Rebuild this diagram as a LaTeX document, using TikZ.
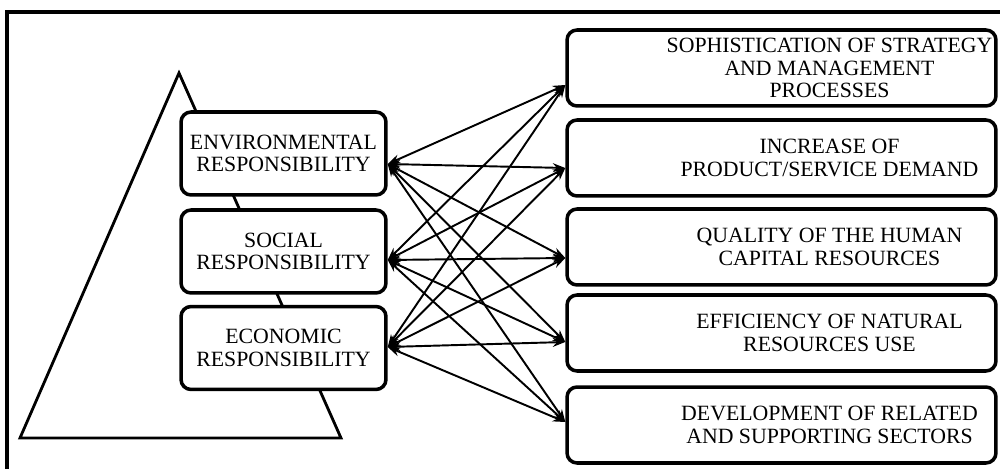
\documentclass[tikz,border=0pt]{standalone}
\usepackage{fontspec}
\setmainfont{Liberation Serif}
\usetikzlibrary{arrows.meta}

\begin{document}
\begin{tikzpicture}[x=0.02cm,y=-0.02cm,
  resp/.style={draw,line width=2pt,rounded corners=0.2cm,fill=white,
    minimum width=4.1cm,minimum height=1.66cm,inner sep=0pt,align=center,
    font=\fontsize{12.4}{12.8}\selectfont},
  factor/.style={draw,line width=2pt,rounded corners=0.2cm,fill=white,
    minimum width=8.58cm,minimum height=1.52cm},
  ftext/.style={align=center,xshift=0.96cm,font=\fontsize{12.4}{12.9}\selectfont},
  link/.style={line width=1.1pt,
    {Stealth[length=2.5mm,width=1.8mm]}-{Stealth[length=2.5mm,width=1.8mm]}}]

\useasboundingbox (0,0) rectangle (1000,469);
\clip (0,0) rectangle (1000,469);

% frame
\draw[line width=2pt] (7,500) -- (7,12) -- (1020,12);

% pyramid behind the three responsibilities
\draw[line width=1.6pt] (179,73) -- (341,438) -- (20,438) -- cycle;

\node[resp] (env) at (283.5,153.5) {ENVIRONMENTAL\\RESPONSIBILITY};
\node[resp] (soc) at (283.5,251.5) {SOCIAL\\RESPONSIBILITY};
\node[resp] (eco) at (283.5,348) {ECONOMIC\\RESPONSIBILITY};

\node[factor,label={[ftext]center:{SOPHISTICATION OF STRATEGY\\AND MANAGEMENT\\PROCESSES}}] (strat) at (781.5,68) {};
\node[factor,label={[ftext]center:{INCREASE OF\\PRODUCT/SERVICE DEMAND}}] (demand) at (781.5,158) {};
\node[factor,label={[ftext]center:{QUALITY OF THE HUMAN\\CAPITAL RESOURCES}}] (human) at (781.5,247) {};
\node[factor,label={[ftext]center:{EFFICIENCY OF NATURAL\\RESOURCES USE}}] (natural) at (781.5,333) {};
\node[factor,label={[ftext]center:{DEVELOPMENT OF RELATED\\AND SUPPORTING SECTORS}}] (sectors) at (781.5,425) {};

% every responsibility linked with every factor
\foreach \a/\da in {env/-0.21,soc/-0.17,eco/0.02}
  \foreach \b/\db in {strat/-0.34,demand/-0.2,human/-0.22,natural/-0.18,sectors/0.06}
    \draw[link] ([yshift=\da cm]\a.east) -- ([yshift=\db cm]\b.west);
\end{tikzpicture}
\end{document}
